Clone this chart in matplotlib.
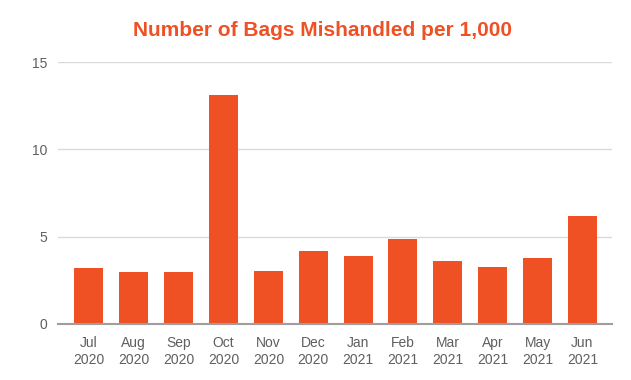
import matplotlib.pyplot as plt

# data
months = ['Jul\n2020', 'Aug\n2020', 'Sep\n2020', 'Oct\n2020', 'Nov\n2020', 'Dec\n2020',
          'Jan\n2021', 'Feb\n2021', 'Mar\n2021', 'Apr\n2021', 'May\n2021', 'Jun\n2021']
bags = [3.2, 2.99, 2.95, 13.14, 3.05, 4.2, 3.89, 4.87, 3.6, 3.29, 3.79, 6.17]

cor = '#F05124'

plt.rcParams['font.family'] = ['Liberation Sans', 'DejaVu Sans']

fig = plt.figure(figsize=(6.31, 3.8), dpi=100)
ax = fig.add_axes([0.0919, 0.1474, 0.8780, 0.6894])

x = range(len(bags))
ax.bar(x, bags, width=0.645, color=cor, zorder=3)

ax.set_xlim(-0.69, 11.66)
ax.set_ylim(0, 15)
ax.set_yticks([0, 5, 10, 15])
ax.set_xticks(list(x))
ax.set_xticklabels(months, fontsize=10, color='#5F5F5F', linespacing=1.25)
ax.tick_params(axis='y', labelsize=10, labelcolor='#5F5F5F', length=0, pad=8)
ax.tick_params(axis='x', length=0, pad=9)

ax.grid(axis='y', color='#DADADA', linewidth=1, zorder=0)
for s in ['top', 'right', 'left']:
    ax.spines[s].set_visible(False)
ax.spines['bottom'].set_color('#9E9E9E')
ax.spines['bottom'].set_linewidth(1.5)
ax.spines['bottom'].set_zorder(4)

fig.text(0.5104, 0.92, 'Number of Bags Mishandled per 1,000', ha='center', va='center',
         fontsize=15, fontweight='bold', color=cor)

fig.savefig('out.png', dpi=100)
